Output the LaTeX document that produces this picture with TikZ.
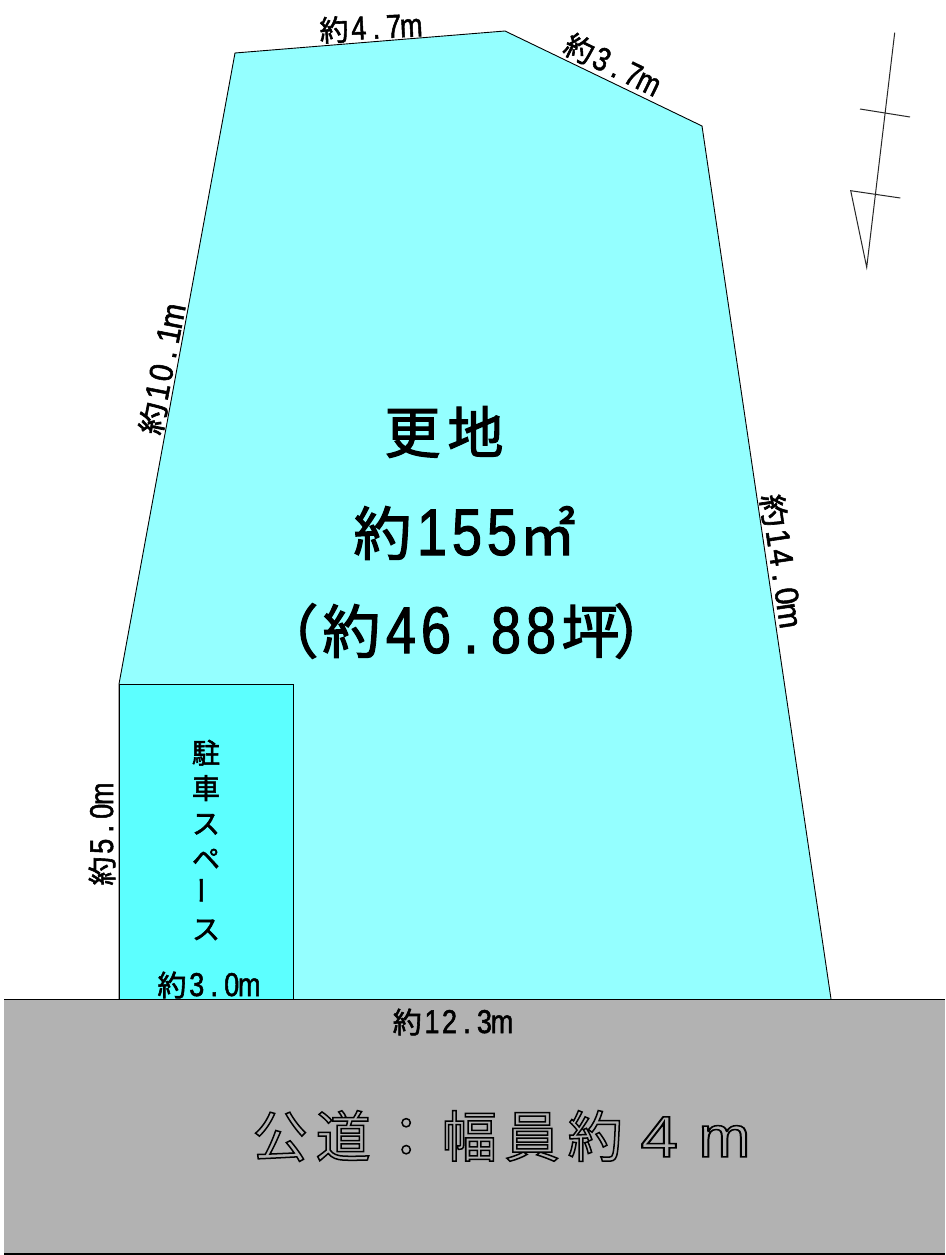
\documentclass[tikz,border=0pt]{standalone}
\usepackage{fontspec}
\usepackage{graphicx}
\newfontfamily\jp[FakeBold=2]{Noto Sans CJK JP}
\newfontfamily\jpl{Noto Sans CJK JP}
\newfontfamily\dg[FakeStretch=0.82,FakeBold=1.5]{Liberation Sans}
\newfontfamily\dgl[FakeStretch=0.82]{Liberation Sans}
\makeatletter
\newcommand\cells[1]{\@tfor\chr@:=#1\do{\makebox[17.5pt]{\chr@}}}
\makeatother
\newcommand\cjkbig[1]{\makebox[32pt]{\jp\fontsize{29pt}{29pt}\selectfont #1}}
\newcommand\dimtxt[2]{\cjkbig{#1}{\dg\fontsize{33pt}{33pt}\selectfont\cells{#2}}}
\definecolor{landfill}{RGB}{148,255,255}
\definecolor{parkfill}{RGB}{92,255,255}
\definecolor{roadfill}{RGB}{178,178,178}
\tikzset{
  dimlabel/.style={inner sep=0pt,transform shape},
  bigtext/.style={inner sep=0pt,scale=2.0},
  edge/.style={draw=black,line width=0.9pt,line join=miter},
  thin edge/.style={draw=black,line width=0.7pt},
  northline/.style={draw=black!85,line width=1pt}
}
\begin{document}
\begin{tikzpicture}[x=1pt,y=-1pt]
\useasboundingbox (0,0) rectangle (945,1255);
\fill[white] (0,0) rectangle (945,1255);
% land
\coordinate (a) at (235,53);
\coordinate (b) at (505,31);
\coordinate (c) at (702,126);
\coordinate (d) at (831,999);
\coordinate (e) at (119,999);
\coordinate (f) at (119,684);
\fill[landfill] (a)--(b)--(c)--(d)--(e)--(f)--cycle;
\draw[edge] (e)--(f)--(a)--(b)--(c)--(d);
% parking
\coordinate (g) at (293,684);
\coordinate (h) at (293,999);
\fill[parkfill] (f) rectangle (h);
\draw[thin edge] (e)--(f)--(g)--(h);
% road
\coordinate (r1) at (4,999);
\coordinate (r2) at (945,1254);
\fill[roadfill] (r1) rectangle (r2);
\draw[edge] (r1)--(945,999);
\draw[edge,line width=1.4pt] (4,1254)--(r2);
% north
\coordinate (n1) at (894.7,32.7);
\coordinate (n2) at (866.7,267.3);
\coordinate (n3) at (850.7,190.7);
\coordinate (n4) at (900.3,198);
\coordinate (n5) at (860,109);
\coordinate (n6) at (910,117);
\draw[northline] (n1)--(n2)--(n3)--(n4);
\draw[northline] (n5)--(n6);
% dimension labels
\node[dimlabel,rotate=3] (l1) at (369,28) {\dimtxt{約}{4.7m}};
\node[dimlabel,rotate=-26] (l2) at (611,64) {\dimtxt{約}{3.7m}};
\node[dimlabel,rotate=79] (l3) at (162,371) {\scalebox{1.1}[1]{\dimtxt{約}{10.1m}}};
\node[dimlabel,rotate=-81.6] (l4) at (781,559) {\scalebox{1.12}[1]{\dimtxt{約}{14.0m}}};
\node[dimlabel,rotate=90] (l5) at (102,836) {\dimtxt{約}{5.0m}};
\node[dimlabel] (l6) at (207,985) {\dimtxt{約}{3.0m}};
\node[dimlabel] (l7) at (451,1022) {\dimtxt{約}{12.3m}};
% parking text
\node[inner sep=0pt,align=center,font=\jp\fontsize{28pt}{35.2pt}\selectfont] (park) at (206,840) {駐\\車\\ス\\ペ\\\rotatebox{90}{ー}\\ス};
% main text
\node[inner sep=0pt,font=\jp\fontsize{56pt}{56pt}\selectfont] (t1) at (444,432) {更\hspace{7pt}地};
\node[bigtext] (t2) at (463,533) {\cjkbig{約}{\dg\fontsize{33pt}{33pt}\selectfont\cells{155}}{\jp\fontsize{28pt}{28pt}\selectfont ㎡}};
\node[bigtext] (t3) at (470,631) {\hspace{-4pt}\cjkbig{（}\hspace{-1pt}\cjkbig{約}{\dg\fontsize{33pt}{33pt}\selectfont\cells{46.88}}\cjkbig{坪}\hspace{-6pt}\cjkbig{）}\hspace{-4pt}};
% road text
\node[inner sep=0pt,font=\jpl\fontsize{55pt}{55pt}\selectfont] (road) at (501.5,1136) {\special{pdf:code q 1 Tr 1.5 w}公\hspace{8pt}道\hspace{8pt}：\hspace{8pt}幅\hspace{8pt}員\hspace{8pt}約\hspace{18pt}{\dgl\fontsize{58pt}{58pt}\selectfont \scalebox{1.4}[1]{4}\hspace{21pt}\scalebox{1.3}[1]{m}}\special{pdf:code Q}};
\end{tikzpicture}
\end{document}
